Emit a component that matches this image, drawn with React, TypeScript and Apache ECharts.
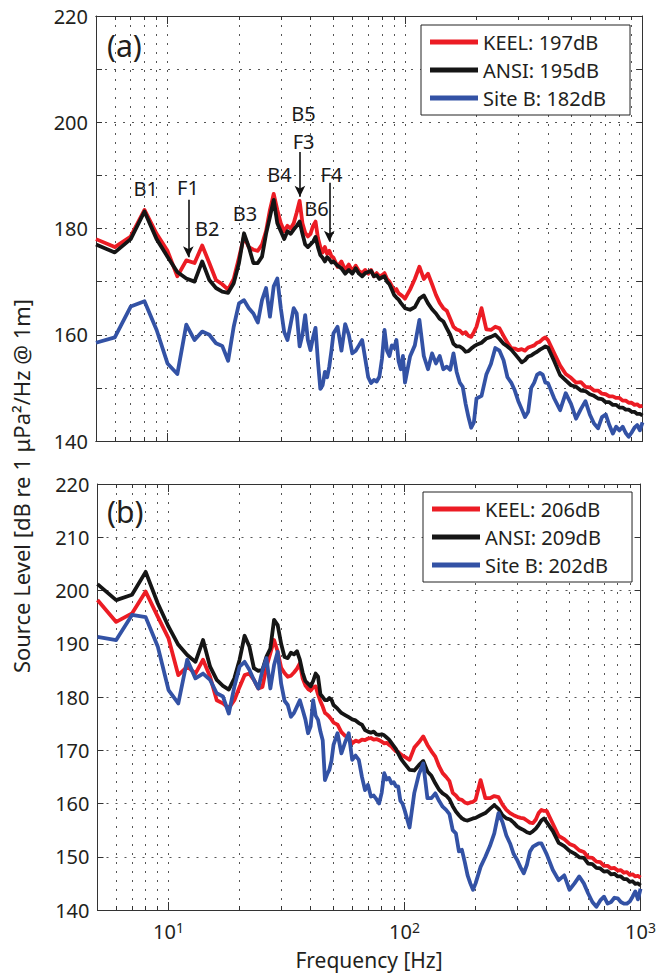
import React, { useEffect, useRef } from 'react';
import * as echarts from 'echarts';

// Frequency grid [Hz]
const freq = [
  5, 6, 7, 8, 9, 10, 11, 12, 13, 14, 15, 16, 17, 18, 19, 20, 21, 22, 23, 24, 25, 26, 27, 28, 29, 30,
  31, 32, 33, 34, 35, 36, 37, 38, 39, 40, 41, 42, 43, 44, 45, 46, 47, 48, 49, 50,
  52, 54, 56, 58, 60, 62, 64, 66, 68, 70, 72, 74, 76, 78, 80, 82, 84, 86, 88, 90, 92, 94, 96, 98, 100,
  105, 110, 115, 120, 125, 130, 135, 140, 145, 150, 155, 160, 165, 170, 175, 180, 185, 190, 195, 200,
  210, 220, 230, 240, 250, 260, 270, 280, 290, 300, 310, 320, 330, 340, 350, 360, 370, 380, 390, 400,
  425, 450, 475, 500, 525, 550, 575, 600, 625, 650, 675, 700, 725, 750, 775, 800, 825, 850, 875, 900, 925, 950, 975, 1000,
];

// Panel (a)
const keelA = [
  178, 176.5, 178.5, 183.5, 179, 175.8, 171, 174, 173.5, 176.8, 173.5, 170.3, 169.5, 168.5, 170.5, 174.5, 178.5, 176.5, 176, 175.8, 177, 179.5, 183.5, 186.5, 183.5, 181,
  179.5, 180.5, 180, 181, 183, 185.2, 181, 179.2, 178.5, 179, 180.5, 181.3, 178.2, 176.5, 175.5, 176.5, 175.2, 175.8, 174.8, 174.5,
  172.8, 173.8, 172.2, 173.2, 172, 173, 172, 171.6, 172.2, 171.5, 172.2, 171, 171.6, 171, 171.2, 171.6, 170.5, 170, 169.2, 168.2, 168.6, 167.8, 167.5, 167.2, 166.8,
  168.5, 170.5, 172.8, 170.5, 171.5, 169.5, 167.5, 166, 165, 164.5, 163, 161.5, 161, 160.8, 160.2, 160.5, 159.8, 159.6, 160.5, 161.5,
  165, 161, 160.9, 161.5, 161.2, 159.8, 158.5, 157.5, 157.4, 157.1, 157.3, 157, 157.6, 157.8, 158, 158.5, 158.7, 159.2, 159.5, 159,
  156.5, 154.2, 152.6, 151.9, 151, 151.1, 150.2, 150.1, 149.5, 149.5, 148.9, 148.8, 148.4, 148.4, 148.1, 148.1, 147.6, 147.6, 147.2, 147.2, 146.8, 146.9, 146.5, 146.6,
];
const ansiA = [
  177, 175.5, 178, 183.2, 178, 174.7, 171.8, 170.6, 170, 173.8, 170.3, 168.8, 168.1, 167.9, 169.7, 173.5, 179.1, 176.5, 173.5, 173.5, 174.7, 179, 182.2, 185.4, 181, 179.5,
  178, 179.5, 179, 179.8, 180.5, 181.3, 179, 177, 176.5, 177, 177.5, 178.4, 176.5, 175, 174.5, 173.8, 174.6, 174.2, 173.6, 173.8,
  173, 172.5, 171.5, 172.2, 171.5, 172.5, 171.5, 171, 171.6, 171.8, 172, 171, 171.2, 170.5, 170.8, 171, 170, 169.5, 168.5, 167.5, 167, 166.6, 166, 165.5, 165,
  164.7, 165.2, 166.8, 167.4, 165.9, 164.8, 164, 163, 162.5, 161.2, 160, 158.3, 157.8, 157.8, 157.4, 156.8, 156.9, 157.4, 157.8, 158.1,
  158.5, 159.3, 159.6, 160, 159.2, 158.3, 157.8, 157.2, 156.4, 155.6, 154.8, 155.2, 155.9, 156.1, 156.5, 156.8, 157.2, 157.5, 157.8, 157.6,
  155, 152.4, 151.4, 150.5, 150.2, 149.5, 149.4, 148.8, 148.5, 148, 147.9, 147.3, 147.3, 146.8, 146.8, 146.3, 146.3, 145.9, 145.9, 145.5, 145.5, 145.1, 145.1, 144.8,
];
const siteBA = [
  158.5, 159.5, 165.3, 166.3, 160.9, 154.6, 152.6, 161.9, 159, 160.6, 160, 158.4, 157.9, 155.1, 161.5, 165.9, 166.5, 165, 164, 162.3, 166.5, 168.8, 163.4, 169.1, 170.6, 165,
  160.5, 159, 162, 165, 164, 157.8, 160, 163.7, 159, 157.1, 159.5, 161.3, 155, 149.8, 150.5, 153, 152, 154, 157, 160.3,
  161.5, 157, 162, 160, 156.5, 157, 158, 159, 155.5, 152, 150.9, 151.5, 151.2, 152.1, 155.5, 160.9, 157, 156, 158, 157.5, 159, 155, 153.5, 156, 151,
  155.9, 158, 162.8, 156, 153.5, 156.5, 154.6, 156, 153.5, 154, 153.4, 156.5, 153, 151, 150.2, 147, 144.5, 142.5, 143.5, 148,
  148.5, 152.5, 154.5, 157.5, 157, 155.2, 152, 151, 149.5, 147.5, 146, 144.5, 145.5, 150, 151, 152.5, 152.8, 152.5, 151, 150.9,
  148, 145.8, 149, 147, 144.2, 146, 147.5, 145, 143.3, 142.4, 144.5, 145, 143, 141.4, 142.7, 142, 142.7, 141.5, 140.8, 141.6, 142.5, 143, 142, 143.5,
];

// Panel (b)
const keelB = [
  198.2, 194.1, 195.7, 199.8, 195.1, 191, 184.1, 185.7, 184.4, 187, 183.8, 179.4, 178.8, 177.9, 179.4, 181.9, 184.1, 184.4, 183.2, 181.6, 181.9, 185.7, 188.2, 190.7, 188.5, 185.5,
  184.5, 183.8, 184, 184.6, 185.3, 186.3, 183.5, 182.2, 181.5, 181.2, 181.8, 182, 180.5, 179.2, 178.2, 177, 176.7, 176.3, 175.8, 175.2,
  174.8, 173.4, 172.7, 172.4, 171.3, 171.8, 171.6, 172, 171.9, 172.2, 172.3, 172, 172.1, 171.9, 171.6, 171.3, 171.4, 171, 170.7, 170.2, 169.8, 169.7, 169.3, 169, 168.8,
  168.2, 170.5, 171.5, 172.6, 171, 169.8, 168.8, 167, 165.7, 165, 164.2, 162, 161.5, 160.8, 160.7, 160.2, 160, 160.2, 160.3, 160.7,
  164.4, 161, 161, 161.4, 161.2, 159.8, 158.8, 158.2, 157.8, 157.5, 157.3, 157.2, 156.8, 156.4, 156.3, 157, 158.2, 158.8, 158.6, 158.6,
  156.2, 153.9, 153.3, 152.4, 152, 151.2, 150.9, 149.9, 149.8, 149.1, 149, 148.3, 148.3, 147.8, 147.9, 147.4, 147.5, 147, 147.1, 146.6, 146.7, 146.3, 146.4, 146.1,
];
const ansiB = [
  201.2, 198.2, 199.2, 203.5, 197.6, 193.2, 189.8, 187.9, 186.6, 190.7, 185.7, 183.2, 182.1, 181.4, 183.5, 187, 191.5, 189.5, 185.4, 184.9, 185.1, 187.6, 189.1, 194.5, 193.5, 190,
  187.5, 187.3, 188.3, 188, 188.6, 187, 184.6, 183, 182.5, 182, 183, 184.4, 183.8, 180.5, 180, 179.4, 179.4, 179.8, 179.5, 178.5,
  177.8, 177, 176.6, 176.2, 175.8, 175.6, 175.1, 174.8, 173.8, 173.5, 173.3, 173.5, 173, 172.9, 173, 172.8, 172.4, 172, 171.4, 170.8, 170.2, 169.4, 168.6, 168, 167.5,
  166.3, 166.2, 167.2, 168, 166, 165.2, 163.8, 162.6, 161.9, 161.5, 160.8, 159.5, 158.5, 157.8, 157.2, 156.9, 156.8, 157, 157.2, 157.3,
  157.8, 158.2, 159, 159.7, 159, 157.8, 157.2, 157, 156.4, 155.7, 155.3, 155, 154.6, 154.4, 154.8, 155.3, 156, 156.8, 157.2, 156.5,
  154.8, 152.6, 152, 151.1, 150.6, 149.9, 149.8, 148.7, 148.6, 147.9, 147.8, 147.2, 147.3, 146.7, 146.8, 146.3, 146.3, 145.8, 145.8, 145.3, 145.4, 144.9, 145, 144.6,
];
const siteBB = [
  191.3, 190.7, 195.4, 195, 189.5, 181.3, 178.8, 187, 183.5, 184.4, 183.2, 180.7, 180.1, 176.9, 181.9, 185.7, 186.6, 185.1, 183.2, 181.6, 185, 187.3, 181.6, 186, 188.5, 182.5,
  179.3, 178.5, 176.3, 177, 178.2, 179.4, 177.6, 175.8, 173.2, 174.5, 179.4, 176.5, 175.7, 173.5, 171.9, 164.4, 165.5, 166.3, 168, 171,
  173.2, 169.4, 171.5, 173.2, 168.2, 169, 168.2, 165, 162.5, 163.5, 161.3, 161.5, 160.8, 160, 162, 165.7, 164.5, 164.8, 163.8, 164, 163.2, 163.2, 160.5, 160, 158.8,
  155.5, 162, 165.5, 167.5, 161, 161, 161.9, 160.5, 159.4, 158.8, 158, 155, 154.4, 151, 151.3, 149, 146.5, 145, 143.8, 145,
  148.1, 150, 152, 154.4, 158.2, 156.5, 154, 152.5, 150.5, 149.4, 148, 146.9, 148.5, 151, 151.9, 152.2, 152.5, 152.5, 151.5, 150.5,
  147.5, 145.6, 146.5, 143.8, 145, 146.3, 145, 143.1, 141.5, 140.6, 141.8, 142.5, 141.2, 141.5, 142.3, 142.2, 141.5, 141.2, 141.2, 141.6, 142.5, 143.5, 142, 144,
];

const seriesNamesA = ['KEEL: 197dB', 'ANSI: 195dB', 'Site B: 182dB'];
const seriesNamesB = ['KEEL: 206dB', 'ANSI: 209dB', 'Site B: 202dB'];

// Frequency ticks [Hz]
const minorFreqTicks = [6, 7, 8, 9, 20, 30, 40, 50, 60, 70, 80, 90, 200, 300, 400, 500, 600, 700, 800, 900];
const gridFreqs = [6, 7, 8, 9, 10, 20, 30, 40, 50, 60, 70, 80, 90, 100, 200, 300, 400, 500, 600, 700, 800, 900, 1000];
const decadeExponents = [1, 2, 3];

// Annotations in panel (a)
const annotText = ['B1', 'F1', 'B2', 'B3', 'B4', 'B5', 'F3', 'B6', 'F4'];
const annotFreq = [8.1, 12.2, 14.7, 21.2, 29.6, 37.4, 37.4, 42.4, 49.0];
const annotLevel = [187.6, 187.8, 180.0, 182.9, 190.1, 201.7, 196.3, 183.7, 190.1];
const arrowFreq = [12.24, 36.1, 48.0];
const arrowFrom = [185.4, 194.4, 188.6];
const arrowTo = [174.6, 186.0, 177.5];

const COLORS = ['#ec1c24', '#151515', '#3352a5'];
const FONT = '"Noto Sans", "DejaVu Sans", sans-serif';
const TXT = '#231f20';

const lg = (f: number) => Math.log10(f);

export default function App() {
  const ref = useRef<HTMLDivElement>(null);

  useEffect(() => {
    if (!ref.current) return;
    const chart = echarts.init(ref.current, undefined, { renderer: 'svg' });

    const gridLine = { show: true, lineStyle: { color: '#555', width: 1, type: [2, 7] as any } };
    const axisLine = { show: true, lineStyle: { color: '#333', width: 1 } };

    const makeX = (gridIndex: number, position: 'top' | 'bottom', kind: 'minor' | 'major', withLabels: boolean) => ({
      type: 'value',
      gridIndex,
      position,
      min: lg(5),
      max: 3,
      axisLine,
      axisTick: {
        show: true,
        inside: true,
        length: kind === 'major' ? 8 : 4,
        customValues: kind === 'major' ? decadeExponents : minorFreqTicks.map(lg),
        lineStyle: { color: '#333' },
      },
      axisLabel: withLabels
        ? {
            show: true,
            customValues: decadeExponents,
            margin: 10,
            formatter: (v: number) => `{b|10}{s|${Math.round(v)}}`,
            rich: {
              b: { fontSize: 20, lineHeight: 22, fontFamily: FONT, color: TXT },
              s: { fontSize: 14, lineHeight: 10, verticalAlign: 'top', fontFamily: FONT, color: TXT },
            },
          }
        : { show: false },
      splitLine: { show: false },
      ...(withLabels
        ? {
            name: 'Frequency [Hz]',
            nameLocation: 'middle',
            nameGap: 39,
            nameTextStyle: { fontSize: 21, lineHeight: 22, fontFamily: FONT, color: TXT },
          }
        : {}),
    });

    // Hidden axis used only to draw the vertical dotted grid at every frequency tick
    const makeGridX = (gridIndex: number) => ({
      type: 'value',
      gridIndex,
      position: 'bottom',
      min: lg(5),
      max: 3,
      axisLine: { show: false },
      axisTick: { show: false, customValues: gridFreqs.map(lg) },
      axisLabel: { show: false },
      splitLine: gridLine,
    });

    const makeY = (gridIndex: number, position: 'left' | 'right', labelEvery: number | null, withSplit: boolean) => ({
      type: 'value',
      gridIndex,
      position,
      min: 140,
      max: 220,
      interval: 10,
      axisLine,
      axisTick: { show: true, inside: true, length: 6, lineStyle: { color: '#333' } },
      axisLabel:
        labelEvery !== null
          ? {
              show: true,
              margin: 8,
              fontSize: 20,
              fontFamily: FONT,
              color: TXT,
              formatter: (v: number) => (Math.round(v - 140) % labelEvery === 0 ? String(v) : ''),
            }
          : { show: false },
      splitLine: withSplit ? gridLine : { show: false },
    });

    const lineSeries = (name: string, vals: number[], color: string, axisIdx: number, yIdx: number) => ({
      type: 'line',
      name,
      xAxisIndex: axisIdx,
      yAxisIndex: yIdx,
      data: freq.map((f, i) => [lg(f), vals[i]]),
      symbol: 'none',
      showSymbol: false,
      lineStyle: { color, width: 3.8, join: 'round' },
      itemStyle: { color },
      clip: true,
      silent: true,
    });

    const legendBase = {
      orient: 'vertical',
      itemWidth: 48,
      itemHeight: 5,
      icon: 'rect',
      itemGap: 8,
      padding: [7, 24, 7, 9],
      borderColor: '#222',
      borderWidth: 1,
      backgroundColor: '#fff',
      selectedMode: false,
      textStyle: { fontSize: 20, lineHeight: 20, fontFamily: FONT, color: TXT },
    };

    const option: any = {
      animation: false,
      backgroundColor: '#fff',
      textStyle: { fontFamily: FONT },
      grid: [
        { left: 96, top: 16, right: 16.5, height: 425, show: false, containLabel: false },
        { left: 97.5, top: 484, right: 13.5, height: 426, show: false, containLabel: false },
      ],
      xAxis: [
        makeGridX(0), // 0
        makeX(0, 'bottom', 'minor', false), // 1
        makeX(0, 'bottom', 'major', false), // 2
        makeX(0, 'top', 'minor', false), // 3
        makeX(0, 'top', 'major', false), // 4
        makeGridX(1), // 5
        makeX(1, 'bottom', 'minor', false), // 6
        makeX(1, 'bottom', 'major', true), // 7
        makeX(1, 'top', 'minor', false), // 8
        makeX(1, 'top', 'major', false), // 9
      ],
      yAxis: [
        makeY(0, 'left', 20, true), // 0
        makeY(0, 'right', null, false), // 1
        makeY(1, 'left', 10, true), // 2
        makeY(1, 'right', null, false), // 3
      ],
      legend: [
        { ...legendBase, data: seriesNamesA, left: 421, top: 25 },
        { ...legendBase, data: seriesNamesB, left: 423, top: 492 },
      ],
      series: [
        lineSeries(seriesNamesA[0], keelA, COLORS[0], 0, 0),
        lineSeries(seriesNamesA[1], ansiA, COLORS[1], 0, 0),
        lineSeries(seriesNamesA[2], siteBA, COLORS[2], 0, 0),
        lineSeries(seriesNamesB[0], keelB, COLORS[0], 5, 2),
        lineSeries(seriesNamesB[1], ansiB, COLORS[1], 5, 2),
        lineSeries(seriesNamesB[2], siteBB, COLORS[2], 5, 2),
        {
          type: 'scatter',
          name: 'annotations',
          xAxisIndex: 0,
          yAxisIndex: 0,
          silent: true,
          symbol: 'circle',
          symbolSize: 0,
          itemStyle: { color: '#000', opacity: 1 },
          data: annotText.map((t, i) => ({ value: [lg(annotFreq[i]), annotLevel[i]], name: t })),
          label: {
            show: true,
            position: 'inside',
            formatter: (p: any) => p.name,
            fontSize: 20,
            fontFamily: FONT,
            color: '#1a1a1a',
            opacity: 1,
            textBorderWidth: 0,
          },
          markLine: {
            silent: true,
            symbol: ['none', 'arrow'],
            symbolSize: [8, 11],
            label: { show: false },
            lineStyle: { color: '#111', width: 1.6, type: 'solid' },
            data: arrowFreq.map((f, i) => [
              { coord: [lg(f), arrowFrom[i]] },
              { coord: [lg(f), arrowTo[i]] },
            ]),
          },
          z: 5,
        },
      ],
      graphic: [
        {
          type: 'text',
          x: 107,
          y: 45,
          style: { text: '(a)', font: `30px ${FONT}`, fill: TXT, align: 'left', verticalAlign: 'middle' },
        },
        {
          type: 'text',
          x: 107,
          y: 511,
          style: { text: '(b)', font: `30px ${FONT}`, fill: TXT, align: 'left', verticalAlign: 'middle' },
        },
        {
          type: 'text',
          x: 21,
          y: 486,
          rotation: Math.PI / 2,
          style: {
            text: 'Source Level [dB re 1 μPa²/Hz @ 1m]',
            font: `22px ${FONT}`,
            fill: TXT,
            align: 'center',
            verticalAlign: 'middle',
          },
        },
      ],
    };

    chart.setOption(option);
    return () => chart.dispose();
  }, []);

  return (
    <div
      ref={ref}
      style={{ position: 'fixed', left: 0, top: 0, width: 659, height: 975, background: '#fff' }}
    />
  );
}
